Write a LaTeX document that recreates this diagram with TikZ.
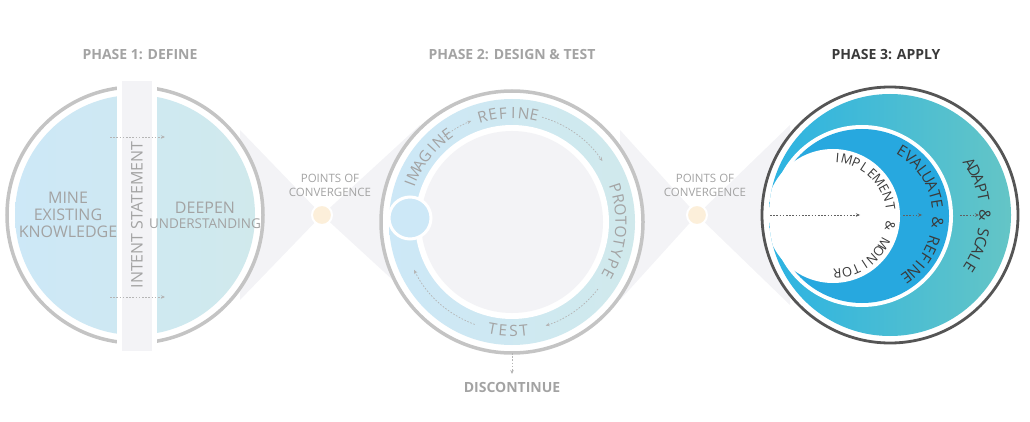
\documentclass[tikz,border=0pt]{standalone}
\usepackage{fontspec}
\setmainfont{Open Sans}
\usetikzlibrary{arrows.meta}
\definecolor{txtgray}{HTML}{A3A3A3}
\definecolor{ringgray}{HTML}{C4C4C4}
\definecolor{barfill}{HTML}{F3F3F6}
\definecolor{lblue}{HTML}{CDE8F7}
\definecolor{lteal}{HTML}{D0E9EC}
\definecolor{dblue}{HTML}{27A8DF}
\definecolor{cyanl}{HTML}{2CB3E2}
\definecolor{tealr}{HTML}{64C5C6}
\definecolor{darkring}{HTML}{555555}
\definecolor{darktxt}{HTML}{3A3A3A}
\definecolor{peach}{HTML}{FCEFDA}
% letters around an arc: centre, radius, first angle, step (negative = clockwise), style, letters
\newcommand\arcletters[6]{%
  \foreach \ch [count=\i from 0] in {#6} {%
    \pgfmathsetmacro\ang{#3+\i*(#4)}%
    \pgfmathsetmacro\rot{(#4)<0 ? \ang-90 : \ang+90}%
    \node[#5,rotate=\rot,inner sep=0pt] at ($(#1)+(\ang:#2)$) {\ch};
  }}
\usetikzlibrary{calc}
\begin{document}
\begin{tikzpicture}[x=1pt,y=1pt]
       \tikzset{label/.style={text=txtgray,font=\fontsize{16}{17}\selectfont,align=center}}
       \tikzset{title/.style={text=txtgray,font=\fontsize{14}{15}\selectfont\bfseries}}
       \tikzset{conv/.style={text=txtgray,font=\fontsize{11.5}{14}\selectfont,align=center}}
       \tikzset{arcgray/.style={text=txtgray,font=\fontsize{15.5}{16}\selectfont}}
       \tikzset{arcdark/.style={text=darktxt,font=\fontsize{15.5}{16}\selectfont}}
       \tikzset{flow/.style={-{Stealth[length=4pt,width=3.5pt]},dash pattern=on 1.6pt off 1.6pt,line width=0.7pt,draw=txtgray!80}}
       \tikzset{darkflow/.style={flow,draw=darktxt!80}}
       \tikzset{point/.style={circle,minimum size=20pt,inner sep=0pt,fill=peach,draw=white,line width=2pt}}

       \useasboundingbox (0,0) rectangle (1030,421);

       % funnels
       \fill[barfill] (240,291) -- (322,206) -- (240,121) -- cycle;
       \fill[barfill] (322,206) -- (420,296) -- (420,116) -- cycle;
       \fill[barfill] (620,291) -- (697,206) -- (620,121) -- cycle;
       \fill[barfill] (697,206) -- (790,296) -- (790,116) -- cycle;

       % phase 1
       \coordinate (c1) at (135,206);
       \fill[white,draw=ringgray,line width=3.5pt] (c1) circle (128pt);
       \shade[left color=lblue,right color=lteal] (c1) circle (120pt);
       \fill[white] (117,68) rectangle (157,342);
       \fill[barfill] (122,70) rectangle (152,340);
       \node[label,rotate=90] (intent) at (137,206) {INTENT STATEMENT};
       \node[label] (mine) at (68,206) {MINE\\EXISTING\\KNOWLEDGE};
       \node[label] (deepen) at (205,206) {DEEPEN\\[-2pt]{\fontsize{13.5}{15}\selectfont UNDERSTANDING}};
       \coordinate (a1) at (110,284); \coordinate (b1) at (165,284);
       \coordinate (a2) at (110,124); \coordinate (b2) at (165,124);
       \draw[flow] (a1) -- (b1);
       \draw[flow] (a2) -- (b2);

       % convergence 1
       \node[point] (p1) at (322,206) {};
       \node[conv] (conv1) at (330,236) {POINTS OF\\CONVERGENCE};

       % phase 2
       \coordinate (c2) at (512,199);
       \fill[white,draw=ringgray,line width=3.5pt] (c2) circle (131pt);
       \shade[left color=lblue,right color=lteal] (c2) circle (123pt);
       \fill[white] (c2) circle (97pt);
       \fill[barfill] (c2) circle (91pt);
       \node[circle,minimum size=42pt,fill=lblue,draw=white,line width=3pt] (start) at (410,203) {};
       \arcletters{c2}{109pt}{159.5}{-5.5}{arcgray}{I,M,A,G,I,N,E}
       \arcletters{c2}{109pt}{105.75}{-5.5}{arcgray}{R,E,F,I,N,E}
       \arcletters{c2}{109pt}{18.2}{-5.8}{arcgray}{P,R,O,T,O,T,Y,P,E}
       \arcletters{c2}{109pt}{259.75}{5.5}{arcgray}{T,E,S,T}
       \draw[flow] (c2) ++(132:109pt) arc[start angle=132,end angle=112,radius=109pt];
       \draw[flow] (c2) ++(74:109pt) arc[start angle=74,end angle=34,radius=109pt];
       \draw[flow] (c2) ++(-38:109pt) arc[start angle=-38,end angle=-72,radius=109pt];
       \draw[flow] (c2) ++(250:109pt) arc[start angle=250,end angle=206,radius=109pt];
       \coordinate (d1) at (512,68); \coordinate (d2) at (512,47);
       \draw[flow] (d1) -- (d2);
       \node[title] (discontinue) at (512,34) {DISCONTINUE};

       % convergence 2
       \node[point] (p2) at (697,206) {};
       \node[conv] (conv2) at (705,236) {POINTS OF\\CONVERGENCE};

       % phase 3
       \coordinate (c3) at (890,206);
       \coordinate (cb) at (862,205);
       \coordinate (cw) at (833,205);
       \fill[white,draw=darkring,line width=2.8pt] (c3) circle (128pt);
       \begin{scope}
         \clip (c3) circle (121pt);
         \shade[left color=cyanl,right color=tealr] (c3) circle (121pt);
         \fill[white] (cb) circle (91pt);
         \fill[dblue] (cb) circle (87pt);
         \fill[white] (cw) circle (67pt);
       \end{scope}
       \arcletters{cw}{58pt}{85.5}{-9.5}{arcdark,font=\fontsize{13}{14}\selectfont}{I,M,P,L,E,M,E,N,T,{},\&,{},M,O,N,I,T,O,R}
       \arcletters{cb}{76pt}{58}{-7}{arcdark}{E,V,A,L,U,A,T,E,{},\&,{},R,E,F,I,N,E}
       \arcletters{c3}{95pt}{33}{-5.5}{arcdark}{A,D,A,P,T,{},\&,{},S,C,A,L,E}
       \coordinate (e1) at (770,206); \coordinate (e2) at (860,206);
       \coordinate (e3) at (903,206); \coordinate (e4) at (922,206);
       \coordinate (e5) at (960,206); \coordinate (e6) at (979,206);
       \draw[darkflow] (e1) -- (e2);
       \draw[darkflow] (e3) -- (e4);
       \draw[darkflow] (e5) -- (e6);

       % titles
       \node[title] (phase1) at (140,366) {PHASE 1: DEFINE};
       \node[title] (phase2) at (512,366) {PHASE 2: DESIGN \& TEST};
       \node[title,text=darktxt] (phase3) at (886,366) {PHASE 3: APPLY};
\end{tikzpicture}
\end{document}
